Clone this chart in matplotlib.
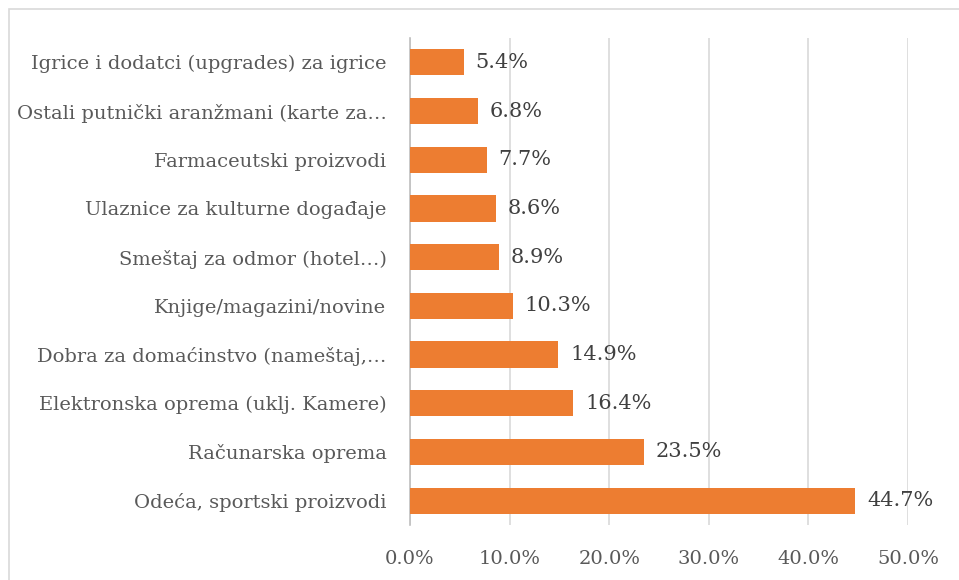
import matplotlib.pyplot as plt
from matplotlib.patches import Rectangle
from matplotlib.ticker import FuncFormatter

# Data (bottom to top, as drawn)
categories = [
    'Odeća, sportski proizvodi',
    'Računarska oprema',
    'Elektronska oprema (uklj. Kamere)',
    'Dobra za domaćinstvo (nameštaj,…',
    'Knjige/magazini/novine',
    'Smeštaj za odmor (hotel…)',
    'Ulaznice za kulturne događaje',
    'Farmaceutski proizvodi',
    'Ostali putnički aranžmani (karte za…',
    'Igrice i dodatci (upgrades) za igrice',
]
values = [44.7, 23.5, 16.4, 14.9, 10.3, 8.9, 8.6, 7.7, 6.8, 5.4]
xticks = [0, 10, 20, 30, 40, 50]

plt.rcParams['font.family'] = ['DejaVu Serif']
text_col = '#595959'
fs = 14

fig = plt.figure(figsize=(9.59, 5.80), dpi=100)
ax = fig.add_axes([410 / 959, 1 - 525 / 580, 498 / 959, 487 / 580])

y = range(len(categories))
ax.barh(y, values, height=0.54, color='#ED7D31', zorder=3)
for yi, v in zip(y, values):
    ax.text(v + 1.2, yi, f'{v:.1f}%', va='center', ha='left',
            fontsize=15, color='#404040')

ax.set_xlim(0, 50)
ax.set_ylim(-0.5, len(categories) - 0.5)
ax.set_xticks(xticks)
ax.xaxis.set_major_formatter(FuncFormatter(lambda v, p: f'{v:.1f}%'))
ax.set_yticks(list(y))
ax.set_yticklabels(categories)
ax.tick_params(axis='both', length=0, labelsize=fs, labelcolor=text_col)
ax.tick_params(axis='x', pad=18)
ax.tick_params(axis='y', pad=17)
ax.grid(axis='x', color='#d9d9d9', linewidth=1.2, zorder=0)
for s in ['top', 'right', 'bottom']:
    ax.spines[s].set_visible(False)
ax.spines['left'].set_color('#bfbfbf')
ax.spines['left'].set_linewidth(1.2)

# outer chart border
fig.patches.append(Rectangle((9 / 959, -0.1), 1.1, 1 - 9 / 580 + 0.1,
                             transform=fig.transFigure, fill=False,
                             edgecolor='#d9d9d9', linewidth=1.2))

fig.savefig('out.png', dpi=100)
